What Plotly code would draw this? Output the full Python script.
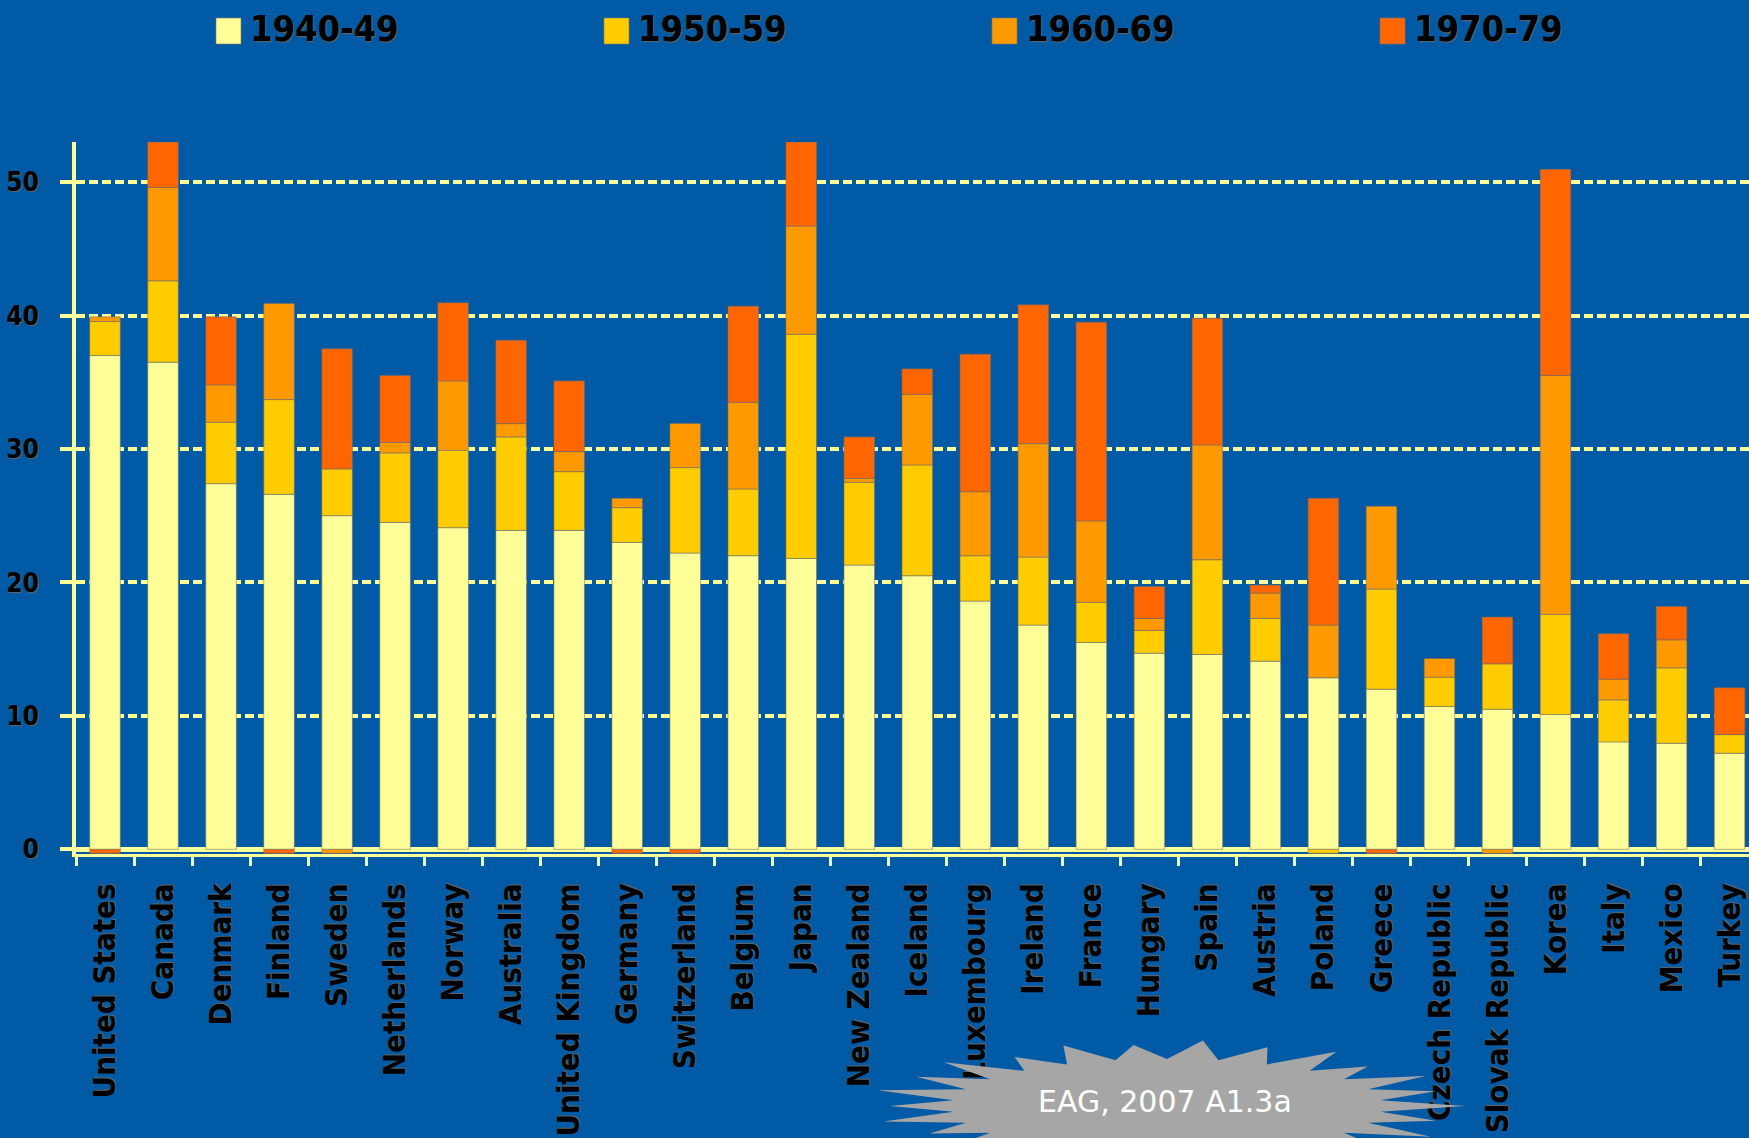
import numpy as np
import plotly.graph_objects as go

countries = ["United States", "Canada", "Denmark", "Finland", "Sweden", "Netherlands", "Norway",
             "Australia", "United Kingdom", "Germany", "Switzerland", "Belgium", "Japan",
             "New Zealand", "Iceland", "Luxembourg", "Ireland", "France", "Hungary", "Spain",
             "Austria", "Poland", "Greece", "Czech Republic", "Slovak Republic", "Korea",
             "Italy", "Mexico", "Turkey"]

s1940 = [37.0, 36.5, 27.4, 26.6, 25.0, 24.5, 24.1, 23.9, 23.9, 23.0, 22.2, 22.0, 21.8,
         21.3, 20.5, 18.6, 16.8, 15.5, 14.7, 14.6, 14.1, 12.85, 12.0, 10.7, 10.5, 10.1,
         8.05, 7.95, 7.2]
s1950 = [2.55, 6.1, 4.6, 7.1, 3.5, 5.2, 5.8, 7.0, 4.4, 2.6, 6.4, 5.0, 16.8,
         6.2, 8.3, 3.4, 5.1, 3.0, 1.7, 7.1, 3.2, -0.3, 7.5, 2.2, 3.4, 7.5,
         3.15, 5.65, 1.4]
s1960 = [0.35, 7.0, 2.8, 7.2, -0.3, 0.8, 5.2, 1.0, 1.5, 0.7, 3.3, 6.5, 8.1,
         0.3, 5.3, 4.8, 8.5, 6.1, 0.9, 8.6, 1.9, 3.95, 6.2, 1.4, -0.3, 17.9,
         1.55, 2.1, 0.0]
s1970 = [-0.3, 3.4, 5.1, -0.3, 9.0, 5.0, 5.85, 6.25, 5.3, -0.3, -0.3, 7.2, 6.3,
         3.1, 1.9, 10.3, 10.4, 14.9, 2.4, 9.5, 0.6, 9.5, -0.3, 0.0, 3.5, 15.45,
         3.4, 2.5, 3.5]

series_names = ["1940-49", "1950-59", "1960-69", "1970-79"]
series_vals = [s1940, s1950, s1960, s1970]
colors = ["#FFFF99", "#FFCC00", "#FF9900", "#FF6600"]
ytick_vals = [0, 10, 20, 30, 40, 50]
source_note = "EAG, 2007 A1.3a"

BG = "#005AA5"
YEL = "#FFFF99"
FONT = "DejaVu Sans Condensed, DejaVu Sans"
SHADOW = "1px 1px 1px #666"

W, H = 1749, 1138
ML, MR, MT, MB = 76, 0, 142, 284
PW, PH = W - ML - MR, H - MT - MB

fig = go.Figure()
for name, vals, col in zip(series_names, series_vals, colors):
    fig.add_trace(go.Bar(x=countries, y=vals, name=name,
                         marker=dict(color=col, line=dict(color="rgba(110,110,110,0.55)", width=1)),
                         showlegend=False))

cat_w = 58.02
x_hi = -0.5 + PW / cat_w

fig.update_layout(
    width=W, height=H,
    margin=dict(l=ML, r=MR, t=MT, b=MB),
    paper_bgcolor=BG, plot_bgcolor=BG,
    barmode="relative", bargap=0.474,
    xaxis=dict(type="category", range=[-0.5, x_hi], tickson="boundaries",
               ticks="outside", ticklen=9, tickwidth=3, tickcolor=YEL,
               showline=True, linecolor=YEL, linewidth=3, layer="below traces",
               showgrid=False, tickangle=-90, ticklabelstandoff=14,
               tickfont=dict(family=FONT, size=31, color="black", weight="bold", shadow=SHADOW)),
    yaxis=dict(range=[-0.35, 53], tickvals=ytick_vals,
               showgrid=True, gridcolor=YEL, gridwidth=4, griddash="9px,4px",
               zeroline=True, zerolinecolor=YEL, zerolinewidth=5,
               showline=True, linecolor=YEL, linewidth=4,
               ticks="outside", ticklen=12, tickwidth=4, tickcolor=YEL,
               ticklabelstandoff=16,
               tickfont=dict(family=FONT, size=26, color="black", weight="bold", shadow=SHADOW)),
)

def px2paper(px, py):
    return (px - ML) / PW, (H - MB - py) / PH

shapes = []
annotations = []
# custom legend
for k, (name, col) in enumerate(zip(series_names, colors)):
    bx0 = 216 + k * 388
    x0, y0 = px2paper(bx0, 44)
    x1, y1 = px2paper(bx0 + 25, 18)
    shapes.append(dict(type="rect", xref="paper", yref="paper", x0=x0, y0=y0, x1=x1, y1=y1,
                       fillcolor=col, line=dict(color="rgba(120,120,120,0.6)", width=1)))
    tx, ty = px2paper(bx0 + 32, 29)
    annotations.append(dict(xref="paper", yref="paper", x=tx, y=ty, xanchor="left", yanchor="middle",
                            text=name, showarrow=False,
                            font=dict(family=FONT, size=36, color="black", weight="bold", shadow=SHADOW)))

# starburst note
cx, cy = 1167, 1106
n_spk = 26
outer_mult = [1.0, 0.93, 0.98, 0.9, 1.0, 0.95]
pts = []
for i in range(2 * n_spk):
    a = np.pi * i / n_spk
    if i % 2 == 0:
        m = outer_mult[(i // 2) % len(outer_mult)]
        rx, ry = 298 * m, 66 * m
    else:
        rx, ry = 215, 47
    px = cx + rx * np.cos(a)
    py = cy - ry * np.sin(a)
    pts.append(px2paper(px, py))
path = "M " + " L ".join(f"{x:.5f},{y:.5f}" for x, y in pts) + " Z"
shapes.append(dict(type="path", xref="paper", yref="paper", path=path,
                   fillcolor="#A6A6A6", line=dict(width=0), layer="above"))
nx, ny = px2paper(1165, 1101)
annotations.append(dict(xref="paper", yref="paper", x=nx, y=ny, xanchor="center", yanchor="middle",
                        text=source_note, showarrow=False,
                        font=dict(family="DejaVu Sans", size=30, color="white")))

fig.update_layout(shapes=shapes, annotations=annotations)
fig.write_html("out.html", config={"displayModeBar": False},
               post_script="document.body.style.margin='0';document.body.style.background='#005AA5';")
